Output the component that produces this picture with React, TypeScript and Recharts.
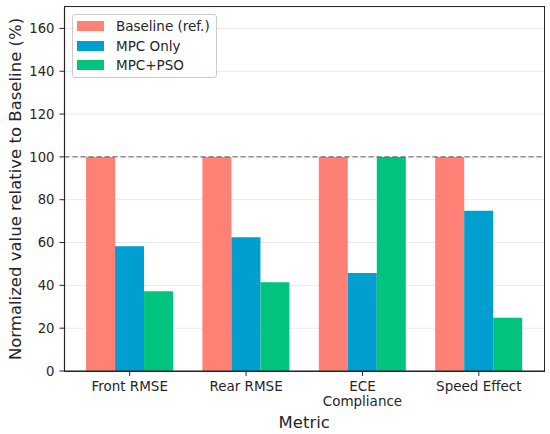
import React from 'react';
import { BarChart, Bar, XAxis, YAxis, CartesianGrid, ReferenceLine } from 'recharts';

const categories = ['Front RMSE', 'Rear RMSE', 'ECE\nCompliance', 'Speed Effect'];
const baseline = [100, 100, 100, 100];
const mpcOnly = [58.3, 62.5, 45.8, 74.9];
const mpcPso = [37.2, 41.4, 100, 24.9];
const yTicks = [0, 20, 40, 60, 80, 100, 120, 140, 160];

const seriesNames = ['Baseline (ref.)', 'MPC Only', 'MPC+PSO'];
const seriesColors = ['#FF8075', '#009FCF', '#00C47D'];

const data = categories.map((c, i) => ({
  name: c,
  baseline: baseline[i],
  mpc: mpcOnly[i],
  pso: mpcPso[i],
}));

const FONT = 'DejaVu Sans, sans-serif';
const TEXT = '#262626';

const M = { top: 7, right: 6, left: 64.5, bottom: 63 };
const W = 550;
const H = 434;

const XTick = (props: any) => {
  const { x, y, payload } = props;
  const lines = String(payload.value).split('\n');
  return (
    <g>
      {lines.map((l, i) => (
        <text key={i} x={x} y={y + i * 15.5} dy="0.71em" textAnchor="middle" fontSize={13.5} fontFamily={FONT} fill={TEXT}>
          {l}
        </text>
      ))}
    </g>
  );
};

const LegendBox = () => (
  <div
    style={{
      position: 'absolute',
      left: 72,
      top: 14,
      width: 145,
      height: 64,
      border: '1px solid #cccccc',
      borderRadius: 3,
      background: 'rgba(255,255,255,0.8)',
      boxSizing: 'border-box',
      fontFamily: FONT,
      fontSize: 13.5,
      color: TEXT,
    }}
  >
    {seriesNames.map((n, i) => (
      <div key={n} style={{ position: 'absolute', left: 4, top: 4 + i * 19.5, height: 14, display: 'flex', alignItems: 'center' }}>
        <div style={{ width: 27, height: 10, background: seriesColors[i] }} />
        <span style={{ marginLeft: 12, whiteSpace: 'nowrap', lineHeight: '14px' }}>{n}</span>
      </div>
    ))}
  </div>
);

export default function App() {
  return (
    <div style={{ position: 'absolute', left: 0, top: 0, width: W, height: H, background: '#fff' }}>
      <BarChart
        width={W}
        height={H}
        data={data}
        margin={{ top: M.top, right: M.right, left: 0, bottom: 0 }}
        barCategoryGap="12.5%"
        barGap={0}
      >
        <CartesianGrid vertical={false} stroke="#e8e8e8" strokeWidth={1} />
        <XAxis
          dataKey="name"
          height={M.bottom}
          padding={{ left: 7, right: 7 }}
          tick={<XTick />}
          tickSize={5}
          tickMargin={5}
          interval={0}
          axisLine={{ stroke: TEXT, strokeWidth: 1.2 }}
          tickLine={{ stroke: TEXT, strokeWidth: 1 }}
          label={(p: any) => {
            const vb = p.viewBox;
            return (
              <text x={vb.x + vb.width / 2} y={vb.y + 57} textAnchor="middle" fontSize={16.5} fontFamily={FONT} fill={TEXT}>
                Metric
              </text>
            );
          }}
        />
        <YAxis
          width={M.left}
          domain={[0, 170]}
          ticks={yTicks}
          interval={0}
          tickSize={5}
          tickMargin={5}
          tick={{ fontSize: 13.2, fontFamily: FONT, fill: TEXT }}
          axisLine={{ stroke: TEXT, strokeWidth: 1.2 }}
          tickLine={{ stroke: TEXT, strokeWidth: 1 }}
          allowDataOverflow
          label={(p: any) => {
            const vb = p.viewBox;
            const cy = vb.y + vb.height / 2;
            return (
              <text x={15} y={cy} transform={`rotate(-90, 15, ${cy})`} textAnchor="middle" dominantBaseline="central" fontSize={16.5} fontFamily={FONT} fill={TEXT}>
                Normalized value relative to Baseline (%)
              </text>
            );
          }}
        />
        <Bar dataKey="baseline" name={seriesNames[0]} fill={seriesColors[0]} isAnimationActive={false} />
        <Bar dataKey="mpc" name={seriesNames[1]} fill={seriesColors[1]} isAnimationActive={false} />
        <Bar dataKey="pso" name={seriesNames[2]} fill={seriesColors[2]} isAnimationActive={false} />
        <ReferenceLine y={100} stroke="#555555" strokeWidth={1} strokeDasharray="5 3" />
      </BarChart>
      <div
        style={{
          position: 'absolute',
          left: M.left - 0.6,
          top: M.top - 0.6,
          width: W - M.left - M.right + 1.2,
          height: H - M.top - M.bottom + 1.2,
          border: `1.2px solid ${TEXT}`,
          boxSizing: 'border-box',
          pointerEvents: 'none',
        }}
      />
      <LegendBox />
    </div>
  );
}
